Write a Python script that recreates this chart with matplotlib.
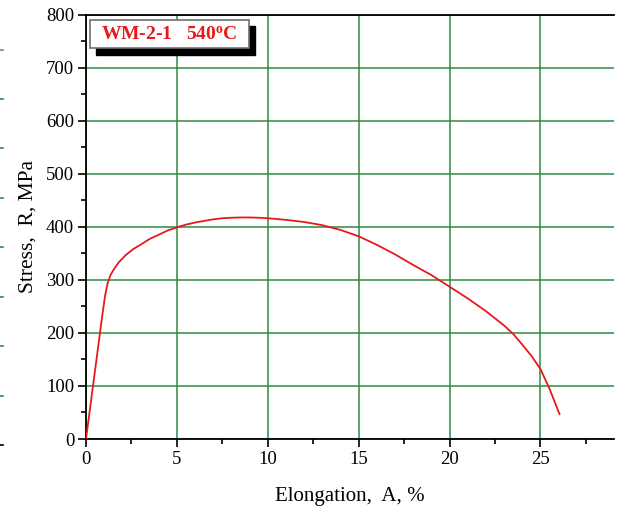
import matplotlib
matplotlib.use("Agg")
import matplotlib.pyplot as plt
from matplotlib.patches import Rectangle
from matplotlib.lines import Line2D

# datos (curva tension-alargamiento)
elongacion = [0.0, 0.3, 0.6, 0.9, 1.05, 1.2, 1.35, 1.5, 1.8, 2.2, 2.6, 3.0, 3.5,
              4.0, 4.5, 5.0, 5.5, 6.0, 6.5, 7.0, 7.5, 8.0, 8.5, 9.0, 9.5, 10.0,
              11.0, 12.0, 13.0, 14.0, 15.0, 16.0, 17.0, 18.0, 19.0, 20.0, 21.0,
              22.0, 23.0, 23.5, 24.0, 24.5, 25.0, 25.5, 26.05]
tension = [0, 78, 156, 234, 270, 295, 309, 318, 333, 347, 358, 366, 377,
           385, 393, 399, 404, 408, 411, 414, 416, 417, 417.5, 417.5, 417, 416,
           413, 409, 403, 394, 382, 366, 348, 328, 309, 287, 265,
           241, 214, 198, 178, 157, 132, 95, 47]

xticks = [0, 5, 10, 15, 20, 25]
yticks = [0, 100, 200, 300, 400, 500, 600, 700, 800]
etiqueta = r"WM-2-1   540$\mathregular{^o}$C"

plt.rcParams['font.family'] = ['Liberation Serif', 'DejaVu Serif']
plt.rcParams['mathtext.fontset'] = 'custom'
plt.rcParams['mathtext.rm'] = 'Liberation Serif'

verde = '#2e8b3f'

fig = plt.figure(figsize=(6.19, 5.08), dpi=100)
ax = fig.add_axes([86 / 619, 1 - 439 / 508, 528 / 619, 424.5 / 508])

ax.plot(elongacion, tension, color='#e8181c', lw=1.3, zorder=3)

ax.set_xlim(0, 29.05)
ax.set_ylim(0, 800)
ax.set_xticks(xticks)
ax.set_yticks(yticks)
ax.set_xticks([2.5, 7.5, 12.5, 17.5, 22.5, 27.5], minor=True)
ax.set_yticks([50, 150, 250, 350, 450, 550, 650, 750], minor=True)
ax.tick_params(which='major', direction='out', length=6, width=1.2, labelsize=13.5,
               colors='black', pad=2.5)
ax.tick_params(which='minor', direction='out', length=3.5, width=1.2)
ax.grid(True, which='major', color=verde, lw=1.1, zorder=0)

ax.spines['right'].set_visible(False)
for s in ['left', 'bottom', 'top']:
    ax.spines[s].set_linewidth(1.3)

ax.set_xlabel('Elongation,  A, %', fontsize=15, labelpad=14)
ax.set_ylabel('Stress,  R, MPa', fontsize=15.5, labelpad=6)

# cuadro de leyenda con sombra
sombra = Rectangle((0.019, 0.905), 0.3015, 0.067, transform=ax.transAxes,
                   facecolor='black', edgecolor='black', zorder=4, clip_on=False)
caja = Rectangle((0.008, 0.92), 0.3015, 0.067, transform=ax.transAxes,
                 facecolor='white', edgecolor='#707070', lw=1.2, zorder=5, clip_on=False)
ax.add_patch(sombra)
ax.add_patch(caja)
ax.text(0.0285, 0.953, etiqueta, transform=ax.transAxes, color='#e8181c',
        fontsize=14, fontweight='bold', va='center', ha='left', zorder=6)

# marcas sueltas en el borde izquierdo
for yy, col in [(50, '#808080'), (99, verde), (148, verde), (198, verde), (247, verde),
                (297, verde), (346, verde), (396, verde), (445, 'black')]:
    fig.add_artist(Line2D([0, 3 / 619], [1 - yy / 508, 1 - yy / 508],
                          color=col, lw=1.2, transform=fig.transFigure))

fig.savefig('out.png', dpi=100)
